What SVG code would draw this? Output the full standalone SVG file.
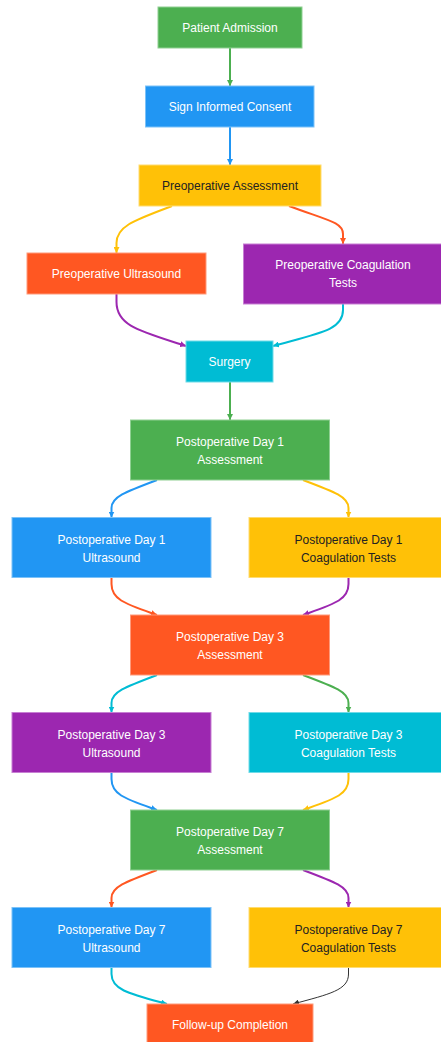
<svg xmlns="http://www.w3.org/2000/svg" width="441" height="1042" viewBox="0 0 441 1042">
<style>
text{font-family:"Liberation Sans",Arial,sans-serif;font-size:12px;text-anchor:middle;fill:#fff}
.dk{fill:#222}
.g{fill:#4CAF50;stroke:#8fd092}
.b{fill:#2196F3;stroke:#7cc2f8}
.a{fill:#FFC107;stroke:#ffdc70}
.o{fill:#FF5722;stroke:#ff9a7b}
.p{fill:#9C27B0;stroke:#c77fd3}
.c{fill:#00BCD4;stroke:#6fdbe8}
rect{stroke-width:1}
.e{fill:none;stroke-width:2}
</style>
<defs>
<marker id="mg" viewBox="0 0 6 6" refX="6" refY="3" markerWidth="6" markerHeight="6" markerUnits="userSpaceOnUse" orient="auto"><path d="M0,0L6,3L0,6z" fill="#4CAF50"/></marker>
<marker id="mb" viewBox="0 0 6 6" refX="6" refY="3" markerWidth="6" markerHeight="6" markerUnits="userSpaceOnUse" orient="auto"><path d="M0,0L6,3L0,6z" fill="#2196F3"/></marker>
<marker id="ma" viewBox="0 0 6 6" refX="6" refY="3" markerWidth="6" markerHeight="6" markerUnits="userSpaceOnUse" orient="auto"><path d="M0,0L6,3L0,6z" fill="#FFC107"/></marker>
<marker id="mo" viewBox="0 0 6 6" refX="6" refY="3" markerWidth="6" markerHeight="6" markerUnits="userSpaceOnUse" orient="auto"><path d="M0,0L6,3L0,6z" fill="#FF5722"/></marker>
<marker id="mp" viewBox="0 0 6 6" refX="6" refY="3" markerWidth="6" markerHeight="6" markerUnits="userSpaceOnUse" orient="auto"><path d="M0,0L6,3L0,6z" fill="#9C27B0"/></marker>
<marker id="mc" viewBox="0 0 6 6" refX="6" refY="3" markerWidth="6" markerHeight="6" markerUnits="userSpaceOnUse" orient="auto"><path d="M0,0L6,3L0,6z" fill="#00BCD4"/></marker>
<marker id="mk" viewBox="0 0 6 6" refX="6" refY="3" markerWidth="6" markerHeight="6" markerUnits="userSpaceOnUse" orient="auto"><path d="M0,0L6,3L0,6z" fill="#333"/></marker>
</defs>
<g id="connectors">
<path class="e" stroke="#4CAF50" marker-end="url(#mg)" d="M230,48L230,86"/>
<path class="e" stroke="#2196F3" marker-end="url(#mb)" d="M230,127L230,165"/>
<path class="e" stroke="#FFC107" marker-end="url(#ma)" d="M172,206C135,220 116.5,226 116.5,243L116.5,253"/>
<path class="e" stroke="#FF5722" marker-end="url(#mo)" d="M289,206C326,220 343,222 343,234L343,244"/>
<path class="e" stroke="#9C27B0" marker-end="url(#mp)" d="M116.5,294L116.5,302C116.5,326 140,331 186,346"/>
<path class="e" stroke="#00BCD4" marker-end="url(#mc)" d="M343,304L343,310C343,330 320,333 273,346"/>
<path class="e" stroke="#4CAF50" marker-end="url(#mg)" d="M230,382L230,420"/>
<path class="e" stroke="#2196F3" marker-end="url(#mb)" d="M157,480C125,492 111.5,497 111.5,508L111.5,517.5"/>
<path class="e" stroke="#FFC107" marker-end="url(#ma)" d="M303,480C335,492 348.5,497 348.5,508L348.5,517.5"/>
<path class="e" stroke="#FF5722" marker-end="url(#mo)" d="M111.5,577.5L111.5,584C111.5,600 126,604 157,615"/>
<path class="e" stroke="#9C27B0" marker-end="url(#mp)" d="M348.5,577.5L348.5,584C348.5,600 334,604 303,615"/>
<path class="e" stroke="#00BCD4" marker-end="url(#mc)" d="M157,675C125,687 111.5,692 111.5,703L111.5,712.5"/>
<path class="e" stroke="#4CAF50" marker-end="url(#mg)" d="M303,675C335,687 348.5,692 348.5,703L348.5,712.5"/>
<path class="e" stroke="#2196F3" marker-end="url(#mb)" d="M111.5,772.5L111.5,779C111.5,795 126,799 157,810"/>
<path class="e" stroke="#FFC107" marker-end="url(#ma)" d="M348.5,772.5L348.5,779C348.5,795 334,799 303,810"/>
<path class="e" stroke="#FF5722" marker-end="url(#mo)" d="M157,870C125,882 111.5,887 111.5,898L111.5,907.5"/>
<path class="e" stroke="#9C27B0" marker-end="url(#mp)" d="M303,870C335,882 348.5,887 348.5,898L348.5,907.5"/>
<path class="e" stroke="#00BCD4" marker-end="url(#mc)" d="M111.5,967.5L111.5,974C111.5,990 130,994 167,1004"/>
<path fill="none" stroke="#333" stroke-width="1" marker-end="url(#mk)" d="M348.5,967.5L348.5,974C348.5,990 330,994 293,1004"/>
</g>
<g id="patient-admission"><rect class="g" x="158" y="7" width="144" height="41"/><text x="230" y="31.5">Patient Admission</text></g>
<g id="sign-consent"><rect class="b" x="145.5" y="86" width="168.5" height="41"/><text x="230" y="110.5">Sign Informed Consent</text></g>
<g id="preop-assessment"><rect class="a" x="139" y="165" width="182" height="41"/><text class="dk" x="230" y="189.5">Preoperative Assessment</text></g>
<g id="preop-ultrasound"><rect class="o" x="27" y="253" width="179" height="41"/><text x="116.5" y="277.5">Preoperative Ultrasound</text></g>
<g id="preop-coag"><rect class="p" x="243.5" y="244" width="199" height="60"/><text x="343" y="269">Preoperative Coagulation</text><text x="343" y="287">Tests</text></g>
<g id="surgery"><rect class="c" x="186" y="341" width="87" height="41"/><text x="229.5" y="365.5">Surgery</text></g>
<g id="pod1-assessment"><rect class="g" x="130.5" y="420" width="199" height="60"/><text x="230" y="446">Postoperative Day 1</text><text x="230" y="464">Assessment</text></g>
<g id="pod1-ultrasound"><rect class="b" x="12" y="517.5" width="199" height="60"/><text x="111.5" y="543.5">Postoperative Day 1</text><text x="111.5" y="561.5">Ultrasound</text></g>
<g id="pod1-coag"><rect class="a" x="249" y="517.5" width="199" height="60"/><text class="dk" x="348.5" y="543.5">Postoperative Day 1</text><text class="dk" x="348.5" y="561.5">Coagulation Tests</text></g>
<g id="pod3-assessment"><rect class="o" x="130.5" y="615" width="199" height="60"/><text x="230" y="641">Postoperative Day 3</text><text x="230" y="659">Assessment</text></g>
<g id="pod3-ultrasound"><rect class="p" x="12" y="712.5" width="199" height="60"/><text x="111.5" y="738.5">Postoperative Day 3</text><text x="111.5" y="756.5">Ultrasound</text></g>
<g id="pod3-coag"><rect class="c" x="249" y="712.5" width="199" height="60"/><text x="348.5" y="738.5">Postoperative Day 3</text><text x="348.5" y="756.5">Coagulation Tests</text></g>
<g id="pod7-assessment"><rect class="g" x="130.5" y="810" width="199" height="60"/><text x="230" y="836">Postoperative Day 7</text><text x="230" y="854">Assessment</text></g>
<g id="pod7-ultrasound"><rect class="b" x="12" y="907.5" width="199" height="60"/><text x="111.5" y="933.5">Postoperative Day 7</text><text x="111.5" y="951.5">Ultrasound</text></g>
<g id="pod7-coag"><rect class="a" x="249" y="907.5" width="199" height="60"/><text class="dk" x="348.5" y="933.5">Postoperative Day 7</text><text class="dk" x="348.5" y="951.5">Coagulation Tests</text></g>
<g id="follow-up"><rect class="o" x="147" y="1004" width="166" height="41"/><text x="230" y="1029">Follow-up Completion</text></g>
</svg>
